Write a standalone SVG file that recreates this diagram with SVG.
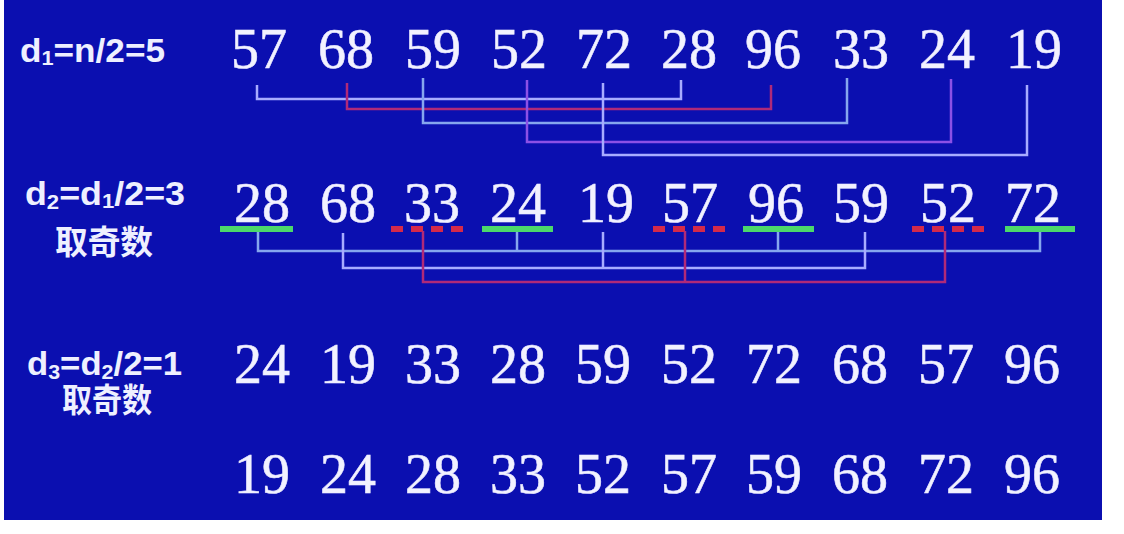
<svg xmlns="http://www.w3.org/2000/svg" width="1124" height="534" viewBox="0 0 1124 534">
<style>
.num{font-family:"Liberation Serif","Times New Roman",serif;font-size:56px;fill:#f2f2ff;stroke:#e8e8ff;stroke-width:0.6;text-anchor:middle}
.lbl{font-family:"Liberation Sans",Arial,sans-serif;font-weight:bold;font-size:34px;fill:#eef0ff}
.sub{font-size:21px}
.cjk{font-family:"Liberation Sans","Noto Sans CJK SC",sans-serif;font-weight:bold;font-size:33px;fill:#eef0ff}
.c{fill:none;stroke-width:2.5;stroke-linejoin:miter}
.lav{stroke:#a8acff}
.red{stroke:#b02a78}
.cyan{stroke:#86a6ee}
.pur{stroke:#8c50e6}
.gu{stroke:#4cd86a;stroke-width:6}
.ru{stroke:#d42a4a;stroke-width:6;stroke-dasharray:12 8}
</style>
<rect x="0" y="0" width="1124" height="534" fill="#ffffff"/>
<rect x="4" y="0" width="1098" height="520" fill="#0b0fb0"/>

<g id="labels">
<text class="lbl" x="20" y="62" textLength="145" lengthAdjust="spacingAndGlyphs">d<tspan class="sub" dy="3">1</tspan><tspan dy="-3">=n/2=5</tspan></text>
<text class="lbl" x="25" y="205" textLength="160" lengthAdjust="spacingAndGlyphs">d<tspan class="sub" dy="4">2</tspan><tspan dy="-4">=d</tspan><tspan class="sub" dy="3">1</tspan><tspan dy="-3">/2=3</tspan></text>
<text class="cjk" x="55" y="254" textLength="98" lengthAdjust="spacingAndGlyphs">取奇数</text>
<text class="lbl" x="27" y="375" textLength="155" lengthAdjust="spacingAndGlyphs">d<tspan class="sub" dy="4">3</tspan><tspan dy="-4">=d</tspan><tspan class="sub" dy="4">2</tspan><tspan dy="-4">/2=1</tspan></text>
<text class="cjk" x="62" y="412" textLength="90" lengthAdjust="spacingAndGlyphs">取奇数</text>
</g>

<g id="row1">
<g id="r1n1"><text class="num" x="259" y="68">57</text></g>
<g id="r1n2"><text class="num" x="346" y="68">68</text></g>
<g id="r1n3"><text class="num" x="433" y="68">59</text></g>
<g id="r1n4"><text class="num" x="519" y="68">52</text></g>
<g id="r1n5"><text class="num" x="604" y="68">72</text></g>
<g id="r1n6"><text class="num" x="689" y="68">28</text></g>
<g id="r1n7"><text class="num" x="773" y="68">96</text></g>
<g id="r1n8"><text class="num" x="861" y="68">33</text></g>
<g id="r1n9"><text class="num" x="947" y="68">24</text></g>
<g id="r1n10"><text class="num" x="1034" y="68">19</text></g>
</g>

<g id="row2">
<g id="r2n1"><text class="num" x="262" y="222">28</text><line class="gu" x1="220" y1="229" x2="293" y2="229"/></g>
<g id="r2n2"><text class="num" x="348" y="222">68</text></g>
<g id="r2n3"><text class="num" x="432" y="222">33</text><line class="ru" x1="391" y1="229" x2="464" y2="229"/></g>
<g id="r2n4"><text class="num" x="518" y="222">24</text><line class="gu" x1="482" y1="229" x2="553" y2="229"/></g>
<g id="r2n5"><text class="num" x="606" y="222">19</text></g>
<g id="r2n6"><text class="num" x="690" y="222">57</text><line class="ru" x1="653" y1="229" x2="726" y2="229"/></g>
<g id="r2n7"><text class="num" x="776" y="222">96</text><line class="gu" x1="743" y1="229" x2="814" y2="229"/></g>
<g id="r2n8"><text class="num" x="861" y="222">59</text></g>
<g id="r2n9"><text class="num" x="948" y="222">52</text><line class="ru" x1="912" y1="229" x2="985" y2="229"/></g>
<g id="r2n10"><text class="num" x="1033" y="222">72</text><line class="gu" x1="1005" y1="229" x2="1075" y2="229"/></g>
</g>

<g id="row3">
<g id="r3n1"><text class="num" x="262" y="383">24</text></g>
<g id="r3n2"><text class="num" x="348" y="383">19</text></g>
<g id="r3n3"><text class="num" x="433" y="383">33</text></g>
<g id="r3n4"><text class="num" x="518" y="383">28</text></g>
<g id="r3n5"><text class="num" x="603" y="383">59</text></g>
<g id="r3n6"><text class="num" x="689" y="383">52</text></g>
<g id="r3n7"><text class="num" x="774" y="383">72</text></g>
<g id="r3n8"><text class="num" x="860" y="383">68</text></g>
<g id="r3n9"><text class="num" x="946" y="383">57</text></g>
<g id="r3n10"><text class="num" x="1032" y="383">96</text></g>
</g>

<g id="row4">
<g id="r4n1"><text class="num" x="262" y="493">19</text></g>
<g id="r4n2"><text class="num" x="348" y="493">24</text></g>
<g id="r4n3"><text class="num" x="433" y="493">28</text></g>
<g id="r4n4"><text class="num" x="518" y="493">33</text></g>
<g id="r4n5"><text class="num" x="603" y="493">52</text></g>
<g id="r4n6"><text class="num" x="689" y="493">57</text></g>
<g id="r4n7"><text class="num" x="774" y="493">59</text></g>
<g id="r4n8"><text class="num" x="860" y="493">68</text></g>
<g id="r4n9"><text class="num" x="946" y="493">72</text></g>
<g id="r4n10"><text class="num" x="1032" y="493">96</text></g>
</g>

<g id="connectors">
<polyline class="c lav" points="257,85 257,99 681,99 681,80"/>
<polyline class="c red" points="347,83 347,109 771,109 771,85"/>
<polyline class="c cyan" points="423,78 423,123 847,123 847,78"/>
<polyline class="c pur" points="527,80 527,142 951,142 951,79"/>
<polyline class="c lav" points="603,83 603,155 1027,155 1027,85"/>

<polyline class="c cyan" points="258,232 258,251 1040,251 1040,232"/>
<line class="c cyan" x1="517" y1="232" x2="517" y2="251"/>
<line class="c cyan" x1="778" y1="232" x2="778" y2="251"/>
<polyline class="c lav" points="343,233 343,268 865,268 865,232"/>
<line class="c lav" x1="603" y1="232" x2="603" y2="268"/>
<polyline class="c red" points="423,231 423,282 945,282 945,231"/>
<line class="c red" x1="685" y1="231" x2="685" y2="282"/>
</g>
</svg>
